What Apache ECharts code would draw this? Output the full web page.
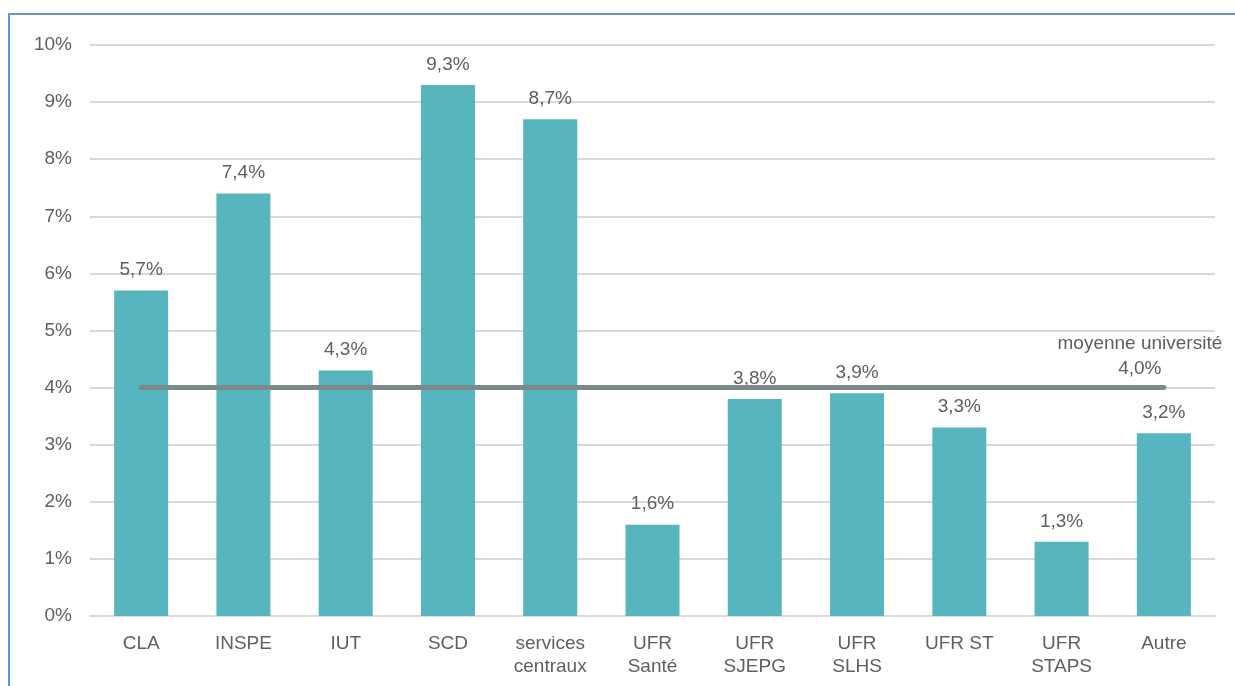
<!DOCTYPE html>
<html>
<head>
<meta charset="utf-8">
<script src="https://cdn.jsdelivr.net/npm/echarts@6/dist/echarts.min.js"></script>
<style>
  html, body { margin: 0; padding: 0; background: #fff; }
  .frame {
    position: absolute; left: 8px; top: 13px; width: 1300px; height: 700px;
    border-top: 2px solid #5b9bd5; border-left: 2px solid #5b9bd5;
  }
  #chart { position: absolute; left: 0; top: 0; width: 1235px; height: 686px; }
</style>
</head>
<body>
<div class="frame"></div>
<div id="chart"></div>
<script>
  const categories = ['CLA', 'INSPE', 'IUT', 'SCD', 'services\ncentraux', 'UFR\nSanté',
    'UFR\nSJEPG', 'UFR\nSLHS', 'UFR ST', 'UFR\nSTAPS', 'Autre']
  const rates = [5.7, 7.4, 4.3, 9.3, 8.7, 1.6, 3.8, 3.9, 3.3, 1.3, 3.2]
  const moyenne = 4.0
  const yTicks = { min: 0, max: 10, interval: 1 }

  const fmt = v => v.toFixed(1).replace('.', ',') + '%'
  const txt = '#5f5f5f'
  const font = 'Liberation Sans, Arial, sans-serif'

  const myChart = echarts.init(document.getElementById('chart'))
  // label only on the last point of the average line
  const meanData = categories.map((c, i) => {
    if (i === categories.length - 1) {
      return {
        value: moyenne,
        label: {
          show: true,
          position: 'top',
          distance: 6,
          offset: [-24, 0],
          align: 'center',
          color: txt,
          fontSize: 19,
          fontFamily: font,
          lineHeight: 25,
          formatter: 'moyenne université\n' + fmt(moyenne)
        }
      }
    }
    return moyenne
  })

  const option = {
    animation: false,
    grid: { left: 90, right: 20, top: 45, bottom: 70 },
    xAxis: {
      type: 'category',
      data: categories,
      axisLine: { lineStyle: { color: '#d9d9d9', width: 2 } },
      axisTick: { show: false },
      axisLabel: { color: txt, fontSize: 19, fontFamily: font, margin: 16, lineHeight: 23, interval: 0 }
    },
    yAxis: {
      type: 'value',
      min: yTicks.min,
      max: yTicks.max,
      interval: yTicks.interval,
      axisLine: { show: false },
      axisTick: { show: false },
      splitLine: { lineStyle: { color: '#d9d9d9', width: 2 } },
      axisLabel: { color: txt, fontSize: 19, fontFamily: font, margin: 18, formatter: '{value}%' }
    },
    series: [
      {
        type: 'bar',
        data: rates,
        barWidth: 54,
        itemStyle: { color: '#57b5bf' },
        label: {
          show: true,
          position: 'top',
          distance: 11,
          color: txt,
          fontSize: 19,
          fontFamily: font,
          formatter: p => fmt(p.value)
        }
      },
      {
        type: 'line',
        data: meanData,
        symbol: 'circle',
        symbolSize: 0,
        lineStyle: { color: '#7a8a8a', width: 5, cap: 'round' },
        z: 5
      }
    ]
  }
  myChart.setOption(option)
</script>
</body>
</html>
